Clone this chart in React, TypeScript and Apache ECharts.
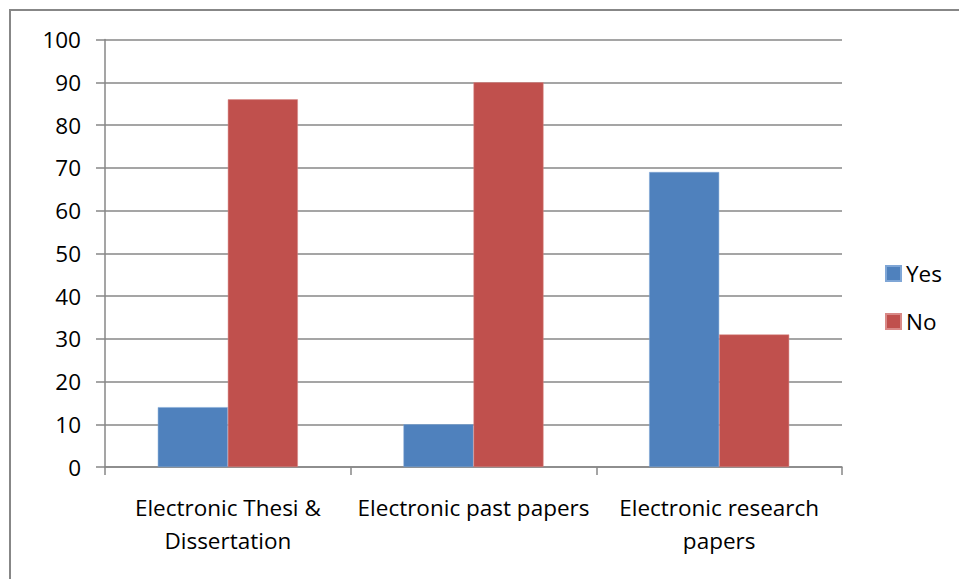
import React, { useEffect, useRef } from "react";
import * as echarts from "echarts";

const categories = [
  "Electronic Thesi &\nDissertation",
  "Electronic past papers",
  "Electronic research\npapers",
];
const yesValues = [14, 10, 69];
const noValues = [86, 90, 31];
const seriesNames = ["Yes", "No"];

const FONT = "'Open Sans', 'Noto Sans', sans-serif";
const FONT_SIZE = 22.5;
const GRID_GRAY = "#878787";

export default function App() {
  const ref = useRef<HTMLDivElement>(null);

  useEffect(() => {
    document.body.style.margin = "0";
    const chart = echarts.init(ref.current!, null, { renderer: "svg" });
    chart.setOption({
      animation: false,
      backgroundColor: "#ffffff",
      graphic: [
        {
          type: "rect",
          shape: { x: 10, y: 10, width: 1000, height: 1000 },
          style: { fill: "none", stroke: GRID_GRAY, lineWidth: 2 },
          silent: true,
        },
      ],
      grid: { left: 105, right: 117, top: 39.5, bottom: 112, containLabel: false },
      legend: {
        orient: "vertical",
        left: 885,
        top: 262,
        padding: 0,
        itemWidth: 15,
        itemHeight: 15,
        itemGap: 25,
        icon: "rect",
        data: seriesNames,
        textStyle: { fontFamily: FONT, fontSize: FONT_SIZE, color: "#000" },
      },
      xAxis: {
        type: "category",
        data: categories,
        axisLine: { lineStyle: { color: GRID_GRAY, width: 1.5 } },
        axisTick: { show: true, length: 8, lineStyle: { color: GRID_GRAY, width: 1.5 } },
        axisLabel: {
          fontFamily: FONT,
          fontSize: FONT_SIZE,
          color: "#000",
          margin: 24,
          lineHeight: 33,
          interval: 0,
        },
      },
      yAxis: {
        type: "value",
        min: 0,
        max: 100,
        interval: 10,
        axisLine: { show: true, lineStyle: { color: GRID_GRAY, width: 1.5 } },
        axisTick: { show: true, length: 9, lineStyle: { color: GRID_GRAY, width: 1.5 } },
        splitLine: { lineStyle: { color: GRID_GRAY, width: 1.5 } },
        axisLabel: { fontFamily: FONT, fontSize: FONT_SIZE, color: "#000", margin: 24 },
      },
      series: [
        {
          name: seriesNames[0],
          type: "bar",
          data: yesValues,
          barGap: "0%",
          barCategoryGap: "43%",
          itemStyle: { color: "#4F81BD", borderColor: "#7FA6D6", borderWidth: 0.5 },
        },
        {
          name: seriesNames[1],
          type: "bar",
          data: noValues,
          barGap: "0%",
          barCategoryGap: "43%",
          itemStyle: { color: "#C0504D", borderColor: "#D98987", borderWidth: 0.5 },
        },
      ],
    });
    return () => chart.dispose();
  }, []);

  return <div ref={ref} style={{ width: 959, height: 579 }} />;
}
